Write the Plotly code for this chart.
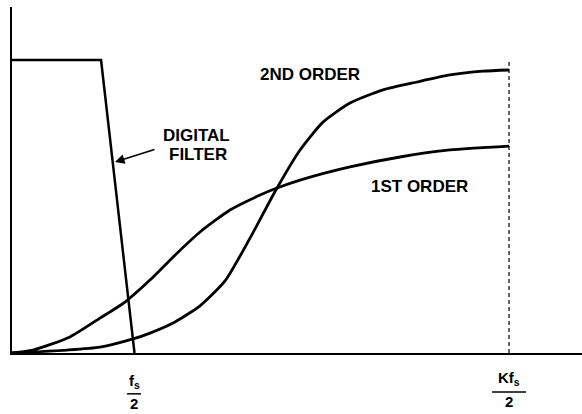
import plotly.graph_objects as go

# frequency in units of fs/2, response normalised to the filter passband
first_x = [0, 0.172, 0.475, 0.721, 0.926, 1.131, 1.336, 1.541, 1.787, 2.033, 2.172, 2.361, 2.770, 3.180, 3.590, 4.074]
first_y = [0, 0.010, 0.055, 0.119, 0.174, 0.249, 0.334, 0.413, 0.488, 0.539, 0.563, 0.590, 0.635, 0.669, 0.693, 0.706]

second_x = [0, 0.451, 0.721, 0.992, 1.131, 1.336, 1.541, 1.746, 1.951, 2.172, 2.361, 2.549, 2.770, 3.041, 3.320, 3.590, 3.861, 4.074]
second_y = [0, 0.010, 0.020, 0.048, 0.068, 0.106, 0.161, 0.246, 0.392, 0.563, 0.693, 0.788, 0.853, 0.898, 0.925, 0.949, 0.962, 0.966]

filter_x = [0, 0.730, 1.004]
filter_y = [1.0, 1.0, 0]

fs_half = 1.0
kfs_half = 4.074
x_range = [0, 4.672]
y_range = [0, 1.181]

FONT = "Liberation Sans, Arial, sans-serif"

fig = go.Figure()
fig.add_trace(go.Scatter(x=filter_x, y=filter_y, mode="lines",
                         line=dict(color="black", width=2.5), cliponaxis=False))
fig.add_trace(go.Scatter(x=first_x, y=first_y, mode="lines",
                         line=dict(color="black", width=2.8, shape="spline", smoothing=0.6),
                         cliponaxis=False))
fig.add_trace(go.Scatter(x=second_x, y=second_y, mode="lines",
                         line=dict(color="black", width=2.8, shape="spline", smoothing=0.6),
                         cliponaxis=False))
fig.add_trace(go.Scatter(x=[kfs_half, kfs_half], y=[0, 1.0], mode="lines",
                         line=dict(color="black", width=1.2, dash="4px,3px"),
                         cliponaxis=False))


def xp(v):
    return (v - x_range[0]) / (x_range[1] - x_range[0])


bold = dict(family=FONT, size=17, color="black")
small = dict(family=FONT, size=15, color="black")
ann = [
    dict(x=2.443, y=0.949, text="<b>2ND ORDER</b>", font=bold),
    dict(x=3.336, y=0.570, text="<b>1ST ORDER</b>", font=bold),
    dict(x=1.516, y=0.741, text="<b>DIGITAL</b>", font=bold),
    dict(x=1.524, y=0.676, text="<b>FILTER</b>", font=bold),
    dict(x=0.844, y=0.652, ax=1.180, ay=0.696, axref="x", ayref="y", text="",
         showarrow=True, arrowhead=2, arrowsize=1.2, arrowwidth=1.6, arrowcolor="black"),
    # tick labels under the axis (paper y)
    dict(x=fs_half, y=-0.116, yref="paper", yanchor="bottom", text="<b>f<sub>s</sub></b>", font=small),
    dict(x=fs_half, y=-0.116, yref="paper", yanchor="top", text="<b>2</b>", font=small),
    dict(x=kfs_half, y=-0.106, yref="paper", yanchor="bottom", text="<b>Kf<sub>s</sub></b>", font=small),
    dict(x=kfs_half, y=-0.110, yref="paper", yanchor="top", text="<b>2</b>", font=small),
]
for a in ann:
    a.setdefault("showarrow", False)
    a.setdefault("xref", "x")
    a.setdefault("yref", "y")
    fig.add_annotation(**a)

# fraction bars under the tick labels
for xc, half, yb in [(fs_half, 0.057, -0.118), (kfs_half, 0.139, -0.113)]:
    fig.add_shape(type="line", xref="paper", yref="paper",
                  x0=xp(xc - half), x1=xp(xc + half), y0=yb, y1=yb,
                  line=dict(color="black", width=1.5))

fig.update_xaxes(range=x_range, showline=True, linecolor="black", linewidth=1.5,
                 showgrid=False, zeroline=False, showticklabels=False, ticks="")
fig.update_yaxes(range=y_range, showline=True, linecolor="black", linewidth=2,
                 showgrid=False, zeroline=False, showticklabels=False, ticks="")
fig.update_layout(width=582, height=414, showlegend=False,
                  margin=dict(l=12, r=0, t=7, b=61),
                  paper_bgcolor="white", plot_bgcolor="white")
fig.write_html("out.html", config={"displayModeBar": False},
               post_script="document.body.style.margin='0px';")
